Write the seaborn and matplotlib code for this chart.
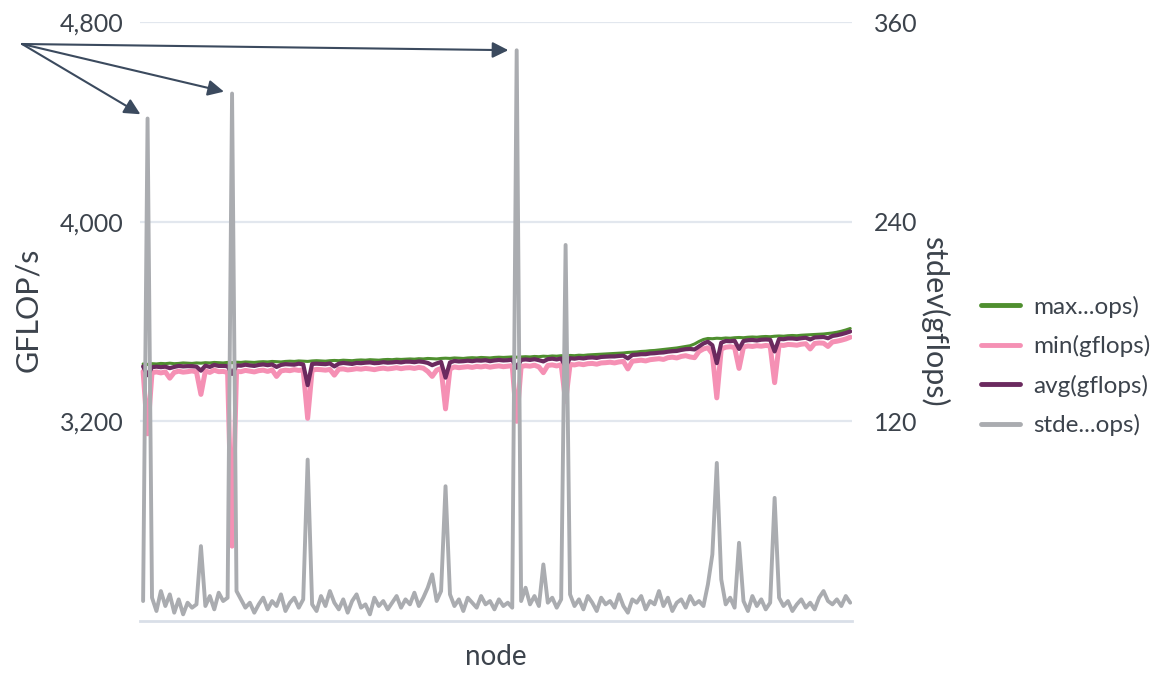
import matplotlib
matplotlib.use("Agg")
import matplotlib.pyplot as plt
from matplotlib.ticker import FuncFormatter, FixedLocator
from matplotlib.lines import Line2D
import seaborn as sns
import numpy as np
import pandas as pd

# ---------------- data ----------------
max_gflops = [
    3430, 3428, 3431, 3430, 3432, 3431, 3433, 3431, 3432, 3434, 3433, 3432, 3434, 3433, 3435, 3434, 3436, 3435, 3434, 3436,
    3435, 3437, 3436, 3438, 3437, 3436, 3438, 3439, 3438, 3440, 3439, 3438, 3440, 3441, 3440, 3442, 3441, 3440, 3442, 3443,
    3442, 3441, 3443, 3444, 3443, 3445, 3444, 3443, 3445, 3446, 3445, 3447, 3446, 3445, 3447, 3448, 3447, 3449, 3448, 3449,
    3450, 3449, 3451, 3450, 3452, 3451, 3450, 3452, 3453, 3452, 3454, 3453, 3452, 3454, 3455, 3454, 3456, 3455, 3454, 3456, 3457, 3456, 3457, 3458,
    3457, 3458, 3459, 3458, 3460, 3459, 3461, 3460, 3462, 3461, 3463, 3462, 3464, 3463, 3465, 3464, 3466, 3467, 3468, 3469,
    3470, 3471, 3472, 3473, 3474, 3476, 3477, 3478, 3480, 3481, 3483, 3484, 3486, 3488, 3490, 3492, 3494, 3497, 3500, 3503,
    3510, 3520, 3528, 3532, 3531, 3533, 3532, 3534, 3533, 3535, 3536, 3535, 3537, 3538, 3537, 3539,
    3540, 3539, 3541, 3542, 3541, 3543, 3544, 3543, 3545, 3546, 3547, 3548, 3549, 3550, 3552, 3554, 3557, 3561, 3566, 3572,
]
min_gflops = [
    3400, 3150, 3395, 3398, 3394, 3398, 3373, 3396, 3401, 3397, 3399, 3402, 3398, 3308, 3402, 3396, 3405, 3399, 3400, 3396,
    2700, 3400, 3399, 3404, 3401, 3398, 3403, 3405, 3400, 3406, 3380, 3402, 3405, 3403, 3407, 3404, 3406, 3212, 3405, 3408,
    3407, 3405, 3408, 3385, 3409, 3410, 3406, 3408, 3411, 3409, 3412, 3410, 3407, 3411, 3413, 3410, 3412, 3415, 3411, 3414,
    3415, 3412, 3416, 3413, 3400, 3380, 3405, 3412, 3250, 3410, 3418, 3415, 3417, 3419, 3416, 3420, 3418, 3421, 3417, 3420, 3422, 3419, 3421, 3423,
    3200, 3420, 3423, 3421, 3425, 3418, 3395, 3424, 3426, 3422, 3427, 3280, 3428, 3426, 3430, 3427, 3431, 3432, 3429, 3434,
    3435, 3437, 3434, 3438, 3440, 3410, 3441, 3443, 3445, 3442, 3447, 3449, 3451, 3448, 3455, 3457, 3454, 3460, 3463, 3458,
    3455, 3480, 3490, 3495, 3470, 3294, 3490, 3497, 3499, 3496, 3412, 3498, 3502, 3500, 3503, 3501,
    3504, 3502, 3355, 3506, 3504, 3508, 3507, 3505, 3509, 3511, 3490, 3512, 3514, 3513, 3500, 3518, 3521, 3525, 3530, 3537,
]
avg_gflops = [
    3420, 3385, 3417, 3419, 3417, 3419, 3413, 3418, 3422, 3420, 3421, 3421, 3419, 3403, 3423, 3418, 3426, 3422, 3422, 3421,
    3390, 3424, 3423, 3427, 3424, 3422, 3426, 3428, 3425, 3428, 3418, 3426, 3429, 3428, 3427, 3431, 3428, 3345, 3430, 3431,
    3430, 3429, 3432, 3420, 3431, 3434, 3432, 3430, 3434, 3433, 3435, 3436, 3433, 3434, 3437, 3435, 3436, 3438, 3436, 3439,
    3439, 3437, 3440, 3438, 3434, 3425, 3432, 3438, 3375, 3436, 3442, 3440, 3441, 3443, 3441, 3444, 3443, 3445, 3441, 3444, 3446, 3444, 3445, 3447,
    3415, 3446, 3448, 3446, 3449, 3445, 3440, 3449, 3451, 3448, 3452, 3420, 3453, 3451, 3454, 3452, 3455, 3456, 3454, 3458,
    3459, 3460, 3460, 3462, 3463, 3452, 3466, 3467, 3469, 3469, 3472, 3473, 3475, 3476, 3479, 3481, 3482, 3486, 3489, 3490,
    3488, 3500, 3512, 3519, 3505, 3433, 3515, 3522, 3521, 3523, 3490, 3522, 3525, 3526, 3524, 3527,
    3528, 3527, 3480, 3530, 3529, 3532, 3532, 3530, 3533, 3535, 3528, 3536, 3537, 3538, 3533, 3542, 3545, 3549, 3554, 3560,
]
stdev_gflops = [
    12, 302, 14, 6, 18, 9, 16, 5, 13, 4, 11, 8, 10, 45, 9, 15, 7, 17, 12, 14,
    317, 18, 13, 8, 11, 5, 10, 14, 7, 12, 9, 16, 6, 11, 14, 8, 13, 97, 10, 6,
    15, 9, 18, 11, 7, 13, 5, 12, 16, 8, 10, 4, 14, 9, 12, 7, 11, 15, 8, 13,
    10, 17, 9, 14, 20, 28, 12, 18, 81, 16, 9, 13, 6, 14, 11, 8, 15, 10, 12, 7, 13, 9, 11, 8,
    343, 12, 20, 10, 15, 9, 34, 11, 14, 8, 13, 226, 16, 9, 13, 7, 15, 11, 6, 14,
    10, 12, 8, 16, 9, 5, 13, 11, 15, 7, 12, 10, 18, 9, 14, 6, 11, 13, 8, 15,
    10, 12, 9, 22, 40, 95, 25, 10, 14, 8, 47, 12, 6, 15, 9, 13,
    7, 11, 74, 14, 9, 12, 6, 10, 13, 8, 11, 7, 14, 18, 12, 10, 13, 9, 15, 11,
]
node = list(range(len(max_gflops)))
annotated_nodes = [1, 20, 84]

series_labels = ["max...ops)", "min(gflops)", "avg(gflops)", "stde...ops)"]
left_ticks = [3200, 4000, 4800]
right_ticks = [120, 240, 360]

df = pd.DataFrame({"node": node, "max": max_gflops, "min": min_gflops,
                   "avg": avg_gflops, "stdev": stdev_gflops})

# ---------------- style ----------------
sns.set_theme(style="white")
plt.rcParams["font.family"] = ["Lato", "DejaVu Sans"]

C_MAX = "#4f8f2f"
C_MIN = "#f590b4"
C_AVG = "#6b2a5f"
C_STD = "#aaacb0"
TXT = "#3c434c"
GRID = "#e2e7ee"

fig = plt.figure(figsize=(11.7, 6.76), dpi=100)
W, H = 1170, 676
ax = fig.add_axes([140 / W, 1 - 621 / H, (852 - 140) / W, (621 - 22) / H])

sns.lineplot(data=df, x="node", y="min", ax=ax, color=C_MIN, lw=3.6, zorder=2)
sns.lineplot(data=df, x="node", y="avg", ax=ax, color=C_AVG, lw=3.0, zorder=3)
sns.lineplot(data=df, x="node", y="max", ax=ax, color=C_MAX, lw=2.2, zorder=1)

ax.set_ylim(2400, 4800)
ax.set_xlim(-0.7, len(node) - 0.6)
ax.yaxis.set_major_locator(FixedLocator(left_ticks))
ax.yaxis.set_major_formatter(FuncFormatter(lambda v, p: f"{int(v):,}"))
ax.set_xticks([])
ax.grid(axis="y", color=GRID, lw=1.6)
ax.set_axisbelow(True)
for s in ["top", "left", "right"]:
    ax.spines[s].set_visible(False)
ax.spines["bottom"].set_color("#d9dfe8")
ax.spines["bottom"].set_linewidth(2)
ax.tick_params(axis="y", length=0, pad=12, labelsize=18, labelcolor=TXT)
ax.set_xlabel("node", fontsize=20, color=TXT)
ax.xaxis.set_label_coords(0.5, -0.038)
ax.set_ylabel("GFLOP/s", fontsize=22, color=TXT)
ax.yaxis.set_label_coords(-0.138, 0.52)

ax2 = ax.twinx()
sns.lineplot(data=df, x="node", y="stdev", ax=ax2, color=C_STD, lw=2.8)
ax2.set_ylim(0, 360)
ax2.yaxis.set_major_locator(FixedLocator(right_ticks))
for s in ["top", "left", "right", "bottom"]:
    ax2.spines[s].set_visible(False)
ax2.tick_params(axis="y", length=0, pad=16, labelsize=18, labelcolor=TXT)
ax2.set_ylabel("stdev(gflops)", fontsize=22, color=TXT, rotation=270, va="bottom")
ax2.yaxis.set_label_coords(1.095, 0.5)
ax2.set_xlabel("")

# legend
handles = [Line2D([0], [0], color=c, lw=3.5) for c in [C_MAX, C_MIN, C_AVG, C_STD]]
leg = fig.legend(handles, series_labels, loc="center left",
                 bbox_to_anchor=(959 / W, 1 - 366 / H), frameon=False,
                 fontsize=17.5, handlelength=1.6, handletextpad=0.55,
                 labelspacing=0.72)
for t in leg.get_texts():
    t.set_color(TXT)

# annotation arrows
for n in annotated_nodes:
    ax2.annotate("", xy=(node[n], stdev_gflops[n]), xycoords="data",
                 xytext=(22, H - 44), textcoords="figure pixels",
                 arrowprops=dict(arrowstyle="-|>", color="#3b4a5e", lw=1.5,
                                 mutation_scale=24, shrinkA=0, shrinkB=6),
                 annotation_clip=False)

fig.savefig("out.png", dpi=100)
